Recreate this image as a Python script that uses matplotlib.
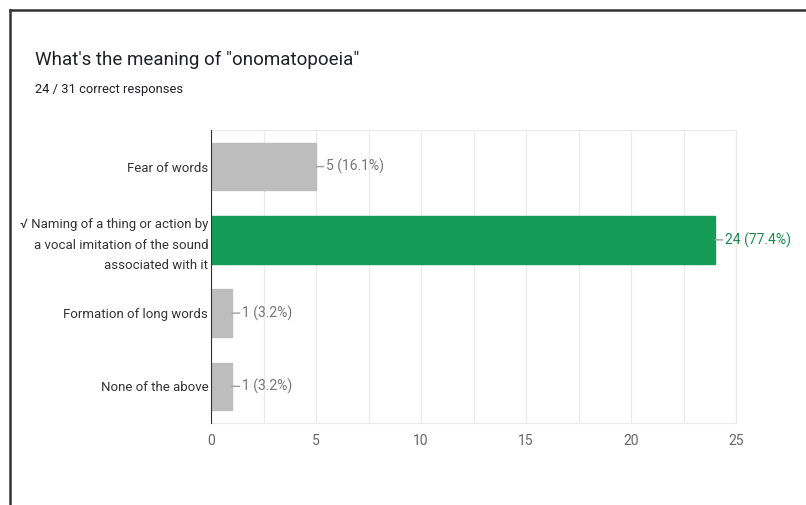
import matplotlib.pyplot as plt
from matplotlib.lines import Line2D

plt.rcParams['font.family'] = ['Roboto', 'DejaVu Sans']

options = ["Fear of words",
           "\u221a Naming of a thing or action by\na vocal imitation of the sound\nassociated with it",
           "Formation of long words",
           "None of the above"]
counts = [5, 24, 1, 1]
correct = [False, True, False, False]
total = 31
n_correct = 24

gray = "#bdbdbd"
green = "#149c57"

fig = plt.figure(figsize=(8.06, 5.05), dpi=100)
ax = fig.add_axes([0.2618, 0.1624, 0.6514, 0.5802])

ypos = list(range(len(options)))
colors = [green if c else gray for c in correct]
ax.barh(ypos, counts, height=0.65, color=colors, edgecolor=colors, zorder=3)

for y, v, c in zip(ypos, counts, correct):
    txt = f"{v} ({v / total * 100:.1f}%)"
    ax.annotate(txt, xy=(v, y), xytext=(7.5, 0), textcoords='offset points',
                ha='left', va='center', fontsize=10,
                color="#188a50" if c else "#757575",
                arrowprops=dict(arrowstyle='-', color="#9e9e9e", lw=1,
                                shrinkA=0, shrinkB=0))

ax.set_xlim(0, 25)
ax.set_ylim(len(options) - 0.5, -0.5)
ax.set_xticks([0, 5, 10, 15, 20, 25])
ax.set_xticks([2.5, 7.5, 12.5, 17.5, 22.5], minor=True)
ax.grid(axis='x', which='both', color="#ebebeb", lw=1, zorder=0)
ax.set_yticks(ypos)
ax.set_yticklabels(options, fontsize=9.5, color="#333333", linespacing=1.75)
ax.tick_params(axis='y', length=0, pad=2)
ax.tick_params(axis='x', which='both', length=0, pad=8, labelsize=10,
               labelcolor="#666666")
for s in ['top', 'right', 'bottom']:
    ax.spines[s].set_color("#ebebeb")
ax.spines['left'].set_color("#333333")
ax.spines['left'].set_zorder(4)

fig.text(35 / 806, 1 - 60 / 505, "What's the meaning of \"onomatopoeia\"",
         fontsize=13.5, color="#202124", va='center', ha='left')
fig.text(35 / 806, 1 - 90 / 505, f"{n_correct} / {total} correct responses",
         fontsize=9.3, color="#202124", va='center', ha='left')

# outer card border (top and left edges visible in the screenshot)
fig.add_artist(Line2D([10 / 806, 1], [1 - 10 / 505, 1 - 10 / 505],
                      transform=fig.transFigure, color="#333333", lw=1.8))
fig.add_artist(Line2D([10 / 806, 10 / 806], [0, 1 - 10 / 505],
                      transform=fig.transFigure, color="#333333", lw=1.8))

fig.savefig("out.png", dpi=100, facecolor="white")
